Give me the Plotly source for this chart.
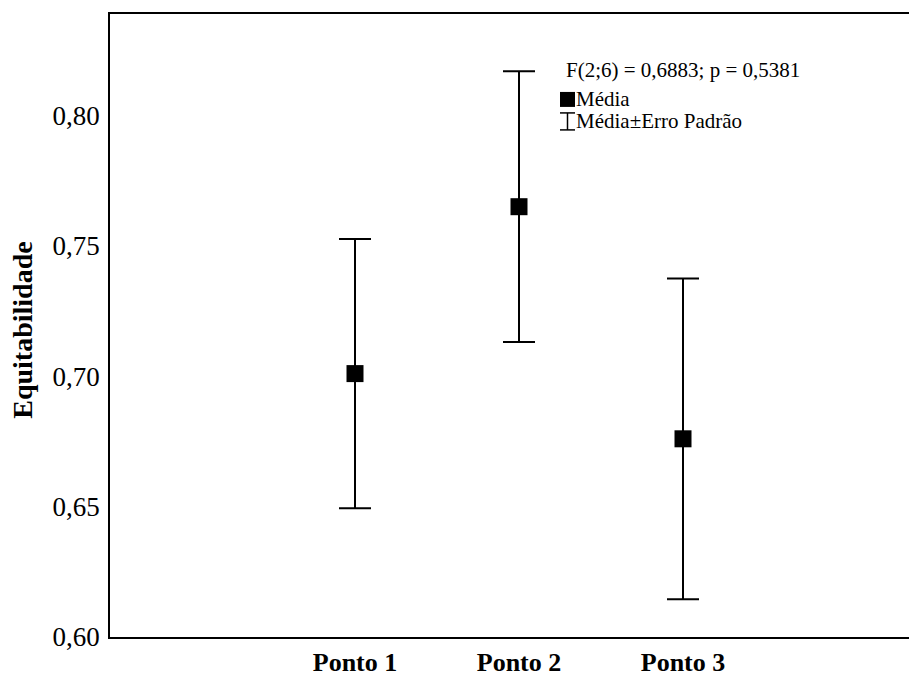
import plotly.graph_objects as go

# ---- data ----
categories = ["Ponto 1", "Ponto 2", "Ponto 3"]
means = [0.701, 0.765, 0.676]
std_errors = [0.0516, 0.0519, 0.0615]
y_tick_values = [0.60, 0.65, 0.70, 0.75, 0.80]
y_tick_labels = ["0,60", "0,65", "0,70", "0,75", "0,80"]
y_title = "Equitabilidade"
stat_text = "F(2;6) = 0,6883; p = 0,5381"
legend_mean = "Média"
legend_se = "Média±Erro Padrão"

# ---- layout geometry (page pixels; page body has an 8px margin) ----
OFF = 8
W, H = 917 - OFF, 675 - OFF
L, R, T, B = 110, 917, 14, 637.5   # plot-area edges in page pixels
FONT = "Liberation Serif"

def px(xp):
    return (xp - L) / (R - L)

def py(yp):
    return (B - yp) / (B - T)

x_idx = list(range(len(categories)))

fig = go.Figure()
fig.add_trace(go.Scatter(
    x=x_idx, y=means, mode="markers",
    marker=dict(symbol="square", size=17, color="black"),
    error_y=dict(type="data", array=std_errors, visible=True,
                 color="black", thickness=2, width=16),
    showlegend=False, hoverinfo="skip",
))

fig.update_layout(
    width=W, height=H,
    margin=dict(l=L - OFF, r=0, t=T - OFF, b=(675 - B), autoexpand=False),
    paper_bgcolor="white", plot_bgcolor="white",
    font=dict(family=FONT, color="black"),
    showlegend=False,
    xaxis=dict(
        range=[-(355 - L) / 164, (R - 355) / 164],
        tickvals=x_idx, ticktext=categories,
        tickfont=dict(family=FONT, size=26, color="black", weight="bold"),
        showgrid=False, zeroline=False, automargin=False,
        showline=True, linecolor="black", linewidth=1.5, mirror=True,
        ticks="", ticklabelstandoff=1,
    ),
    yaxis=dict(
        range=[0.60, 0.60 + (B - T) / 2610],
        tickvals=y_tick_values, ticktext=y_tick_labels,
        tickfont=dict(family=FONT, size=27, color="black"),
        showgrid=False, zeroline=False, automargin=False,
        showline=True, linecolor="black", linewidth=1.5,
        ticks="", ticklabelstandoff=3,
    ),
)

annotations = [
    dict(text=y_title, textangle=-90, x=px(23), y=py(331), xref="paper", yref="paper",
         xanchor="center", yanchor="middle", showarrow=False,
         font=dict(family=FONT, size=28, color="black", weight="bold")),
    dict(text=stat_text, x=px(564), y=py(70), xref="paper", yref="paper",
         xanchor="left", yanchor="middle", showarrow=False,
         font=dict(family=FONT, size=21, color="black")),
    dict(text=legend_mean, x=px(574), y=py(99), xref="paper", yref="paper",
         xanchor="left", yanchor="middle", showarrow=False,
         font=dict(family=FONT, size=21, color="black")),
    dict(text=legend_se, x=px(574), y=py(121), xref="paper", yref="paper",
         xanchor="left", yanchor="middle", showarrow=False,
         font=dict(family=FONT, size=21, color="black")),
]
fig.update_layout(annotations=annotations)

shapes = [
    dict(type="rect", xref="paper", yref="paper", x0=px(560), x1=px(575), y0=py(107), y1=py(92),
         fillcolor="black", line=dict(width=0)),
    dict(type="line", xref="paper", yref="paper", x0=px(567.5), x1=px(567.5), y0=py(130), y1=py(113),
         line=dict(color="black", width=1.5)),
    dict(type="line", xref="paper", yref="paper", x0=px(560), x1=px(575), y0=py(113), y1=py(113),
         line=dict(color="black", width=1.5)),
    dict(type="line", xref="paper", yref="paper", x0=px(560), x1=px(575), y0=py(130), y1=py(130),
         line=dict(color="black", width=1.5)),
]
fig.update_layout(shapes=shapes)

fig.write_html("out.html")
